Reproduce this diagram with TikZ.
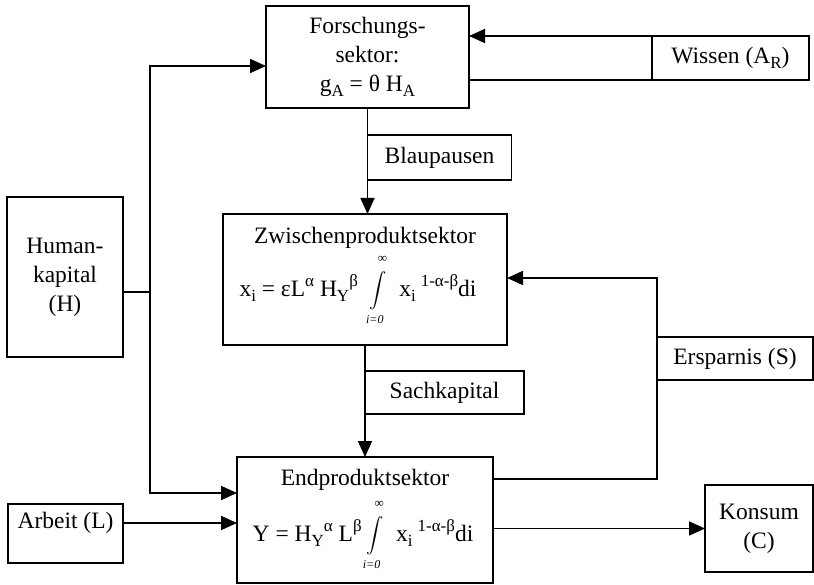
\documentclass[tikz,border=0pt]{standalone}
\usepackage{fontspec}
\setmainfont{Liberation Serif}
\usepackage{amsmath}
\usepackage{exscale}
\usetikzlibrary{arrows.meta}
\newcommand{\sbs}[1]{\raisebox{-0.22em}{\fontsize{17}{17}\selectfont #1}}
\newcommand{\sps}[1]{\raisebox{0.42em}{\fontsize{17}{17}\selectfont #1}}
\newcommand{\intlim}{$\vcenter{\hbox{\fontsize{18}{18}\selectfont$\displaystyle\int\limits_{\mbox{\fontsize{12}{12}\selectfont\itshape\raisebox{-3pt}{i=0}}}^{\mbox{\fontsize{13}{13}\selectfont\raisebox{6pt}{∞}}}$}}$}
\begin{document}
\begin{tikzpicture}[x=1pt,y=-1pt, line width=1.7pt,
  box/.style={draw, rectangle, inner sep=0pt, outer sep=0pt},
  txt/.style={inner sep=0pt, align=center, font=\fontsize{23.5}{29}\selectfont},
  arr/.style={-{Triangle[length=16pt,width=14pt]}}]
\useasboundingbox[fill=white] (0,0) rectangle (814,585);

\node[box, txt, minimum width=203pt, minimum height=102pt] (fs) at (367.5,57) {Forschungs-\\sektor:\\g\sbs{A} = θ H\sbs{A}};
\node[box, txt, minimum width=157pt, minimum height=44pt] (wis) at (730.5,58) {Wissen (A\sbs{R})};
\node[box, txt, minimum width=144pt, minimum height=45pt] (bl) at (439.5,157.5) {Blaupausen};

\node[box, minimum width=284pt, minimum height=131pt] (zw) at (365,279.5) {};
\node[txt] (zwt) at (365,238) {Zwischenproduktsektor};
\node[txt] (zwf) at (358,290) {x\sbs{i} = εL\sps{α} H\sbs{Y}\sps{β}\hspace{12pt}\intlim\hspace{12pt}x\sbs{i}\hspace{5pt}\sps{1-α-β}di};

\node[box, txt, minimum width=159pt, minimum height=43pt] (sk) at (444.5,392.5) {Sachkapital};

\node[box, minimum width=256pt, minimum height=126pt] (ep) at (365,520) {};
\node[txt] (ept) at (365,480) {Endproduktsektor};
\node[txt] (epf) at (363,535) {Y = H\sbs{Y}\sps{α} L\sps{β}\hspace{5pt}\intlim\hspace{12pt}x\sbs{i}\hspace{5pt}\sps{1-α-β}di};

\node[box, txt, minimum width=116pt, minimum height=160pt] (hk) at (65,277) {Human-\\kapital\\(H)};
\node[box, minimum width=115pt, minimum height=59pt] (ar) at (65.5,533.5) {};
\node[txt] (art) at (65.5,523) {Arbeit (L)};
\node[box, txt, minimum width=108pt, minimum height=87pt] (ko) at (759,528.5) {Konsum\\(C)};
\node[box, txt, minimum width=156pt, minimum height=43pt] (er) at (735,358.5) {Ersparnis (S)};

\coordinate (jt) at (150,66);
\coordinate (jm) at (150,292);
\coordinate (jb) at (150,493);
\coordinate (e1) at (657,479);
\coordinate (e2) at (657,278);

\draw[arr] (wis.north west) -- (wis.north west -| fs.east);
\draw (fs.east |- wis.south west) -- (wis.south west);
\draw[arr] (fs.south) -- (fs.south |- zw.north);
\draw[arr] (zw.south) -- (zw.south |- ep.north);
\draw (hk.east |- jm) -- (jm);
\draw[arr] (jm) -- (jt) -- (jt -| fs.west);
\draw[arr] (jm) -- (jb) -- (jb -| ep.west);
\draw[arr] (ar.east |- art) -- (art -| ep.west);
\draw[arr] (ep.east |- ko) -- (ko.west);
\draw[arr] (e1 -| ep.east) -- (e1) -- (e2) -- (e2 -| zw.east);
\end{tikzpicture}
\end{document}
